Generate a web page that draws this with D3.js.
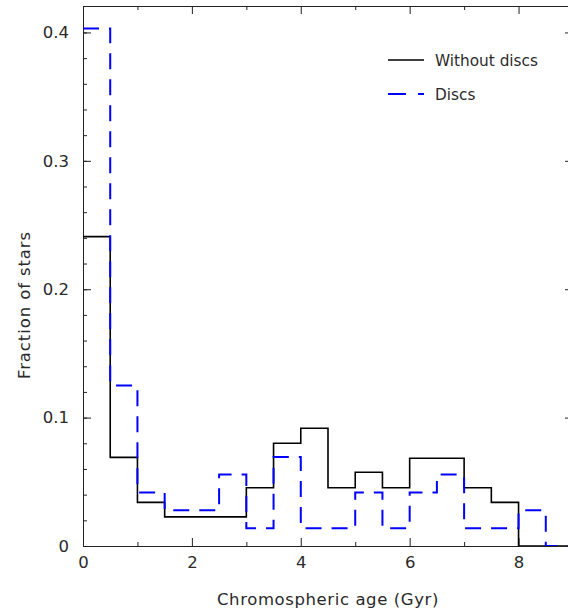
<!DOCTYPE html>
<html>
<head>
<meta charset="utf-8">
<script src="https://cdn.jsdelivr.net/npm/d3@7"></script>
<style>
  body { margin: 0; background: #fff; }
  svg { display: block; }
  text { font-family: "DejaVu Sans", sans-serif; fill: #2a2a2a; }
  .axis path, .axis line { stroke: #222; }
</style>
</head>
<body>
<div id="chart"></div>
<script>
    // Histogram bin edges (Gyr), 0.5 Gyr bins
    var binEdges = [0, 0.5, 1, 1.5, 2, 2.5, 3, 3.5, 4, 4.5, 5, 5.5, 6, 6.5, 7, 7.5, 8, 8.5, 9];

    // Fraction of stars per bin
    var withoutDiscs = [0.241, 0.069, 0.034, 0.0227, 0.0227, 0.0227, 0.0454, 0.080, 0.0917,
        0.0454, 0.0574, 0.0454, 0.0683, 0.0683, 0.0454, 0.034, 0, 0];
    var discs = [0.403, 0.125, 0.0417, 0.0278, 0.0278, 0.0556, 0.0139, 0.0694, 0.0139,
        0.0139, 0.0417, 0.0139, 0.0417, 0.0556, 0.0139, 0.0139, 0.0278, 0];

    var xMajorTicks = [0, 2, 4, 6, 8],
        xMinorTicks = [1, 3, 5, 7, 9];
    var yMajorTicks = [0, 0.1, 0.2, 0.3, 0.4],
        yMinorTicks = d3.range(0.02, 0.42, 0.02);

    var seriesNames = ['Without discs', 'Discs'];

    // Layout
    var width = 568,
        height = 612;
    var margin = {top: 6, left: 83, bottom: 66, right: -5};
    var innerWidth = width - margin.left - margin.right,
        innerHeight = height - margin.top - margin.bottom;

    var svg = d3.select('#chart').append('svg')
        .attr('width', width)
        .attr('height', height);

    var chart = svg.append('g')
        .attr('transform', 'translate(' + margin.left + ',' + margin.top + ')');

    var x = d3.scaleLinear().domain([0, 9]).range([0, innerWidth]);
    var y = d3.scaleLinear().domain([0, 0.4206]).range([innerHeight, 0]);

    // Clipping path
    chart.append('defs').append('clipPath')
        .attr('id', 'plotAreaClip')
        .append('rect')
        .attr('width', innerWidth)
        .attr('height', innerHeight);

    var yFormat = function(d) { return d === 0 ? '0' : d3.format('.1f')(d); };

    // Axes: ticks pointing inwards on all four sides
    function addAxis(axis, transform, ticks, size, labels, padding) {
        var g = chart.append('g')
            .attr('class', 'axis')
            .attr('transform', transform)
            .call(axis.tickValues(ticks).tickSizeInner(-size).tickSizeOuter(0)
                .tickPadding(padding || 0));
        if (!labels) {
            g.selectAll('text').remove();
        }
        g.selectAll('text')
            .style('font-size', '16.5px')
            .style('font-family', '"DejaVu Sans", sans-serif')
            .style('fill', '#2a2a2a');
        return g;
    }

    addAxis(d3.axisBottom(x).tickFormat(d3.format('d')), 'translate(0,' + innerHeight + ')', xMajorTicks, 8, true, 10);
    addAxis(d3.axisBottom(x), 'translate(0,' + innerHeight + ')', xMinorTicks, 4, false);
    addAxis(d3.axisTop(x), 'translate(0,0)', xMajorTicks, 8, false);
    addAxis(d3.axisTop(x), 'translate(0,0)', xMinorTicks, 4, false);
    addAxis(d3.axisLeft(y).tickFormat(yFormat), 'translate(0,0)', yMajorTicks, 8, true, 14);
    addAxis(d3.axisLeft(y), 'translate(0,0)', yMinorTicks, 4, false);
    addAxis(d3.axisRight(y), 'translate(' + innerWidth + ',0)', yMajorTicks, 8, false);
    addAxis(d3.axisRight(y), 'translate(' + innerWidth + ',0)', yMinorTicks, 4, false);

    // Step histograms
    var step = d3.line()
        .x(function(d) { return x(d[0]); })
        .y(function(d) { return y(d[1]); })
        .curve(d3.curveStepAfter);

    function stepPoints(values) {
        var pts = values.map(function(v, i) { return [binEdges[i], v]; });
        pts.push([binEdges[values.length], values[values.length - 1]]);
        return pts;
    }

    var plotArea = chart.append('g')
        .attr('clip-path', 'url(#plotAreaClip)');

    plotArea.append('path')
        .attr('d', step(stepPoints(withoutDiscs)))
        .attr('fill', 'none')
        .attr('stroke', '#000')
        .attr('stroke-width', 1.6);

    plotArea.append('path')
        .attr('d', step(stepPoints(discs)))
        .attr('fill', 'none')
        .attr('stroke', '#0000ff')
        .attr('stroke-width', 2)
        .attr('stroke-dasharray', '16,10');

    // Axis titles
    svg.append('text')
        .attr('x', 328)
        .attr('y', 605)
        .attr('text-anchor', 'middle')
        .style('font-size', '16.5px')
        .style('letter-spacing', '0.6px')
        .text('Chromospheric age (Gyr)');

    svg.append('text')
        .attr('transform', 'translate(30,305) rotate(-90)')
        .attr('text-anchor', 'middle')
        .style('font-size', '16.5px')
        .style('letter-spacing', '0.9px')
        .text('Fraction of stars');

    // Legend
    var legend = svg.append('g');
    var legendStyles = [
        {stroke: '#000', width: 1.6, dash: null},
        {stroke: '#0000ff', width: 2, dash: '18,12'}
    ];
    seriesNames.forEach(function(name, i) {
        var ly = 60 + i * 34;
        legend.append('line')
            .attr('x1', 388).attr('x2', 424)
            .attr('y1', ly).attr('y2', ly)
            .attr('stroke', legendStyles[i].stroke)
            .attr('stroke-width', legendStyles[i].width)
            .attr('stroke-dasharray', legendStyles[i].dash);
        legend.append('text')
            .attr('x', 435)
            .attr('y', ly + 6)
            .style('font-size', '15.3px')
            .text(name);
    });
</script>
</body>
</html>
